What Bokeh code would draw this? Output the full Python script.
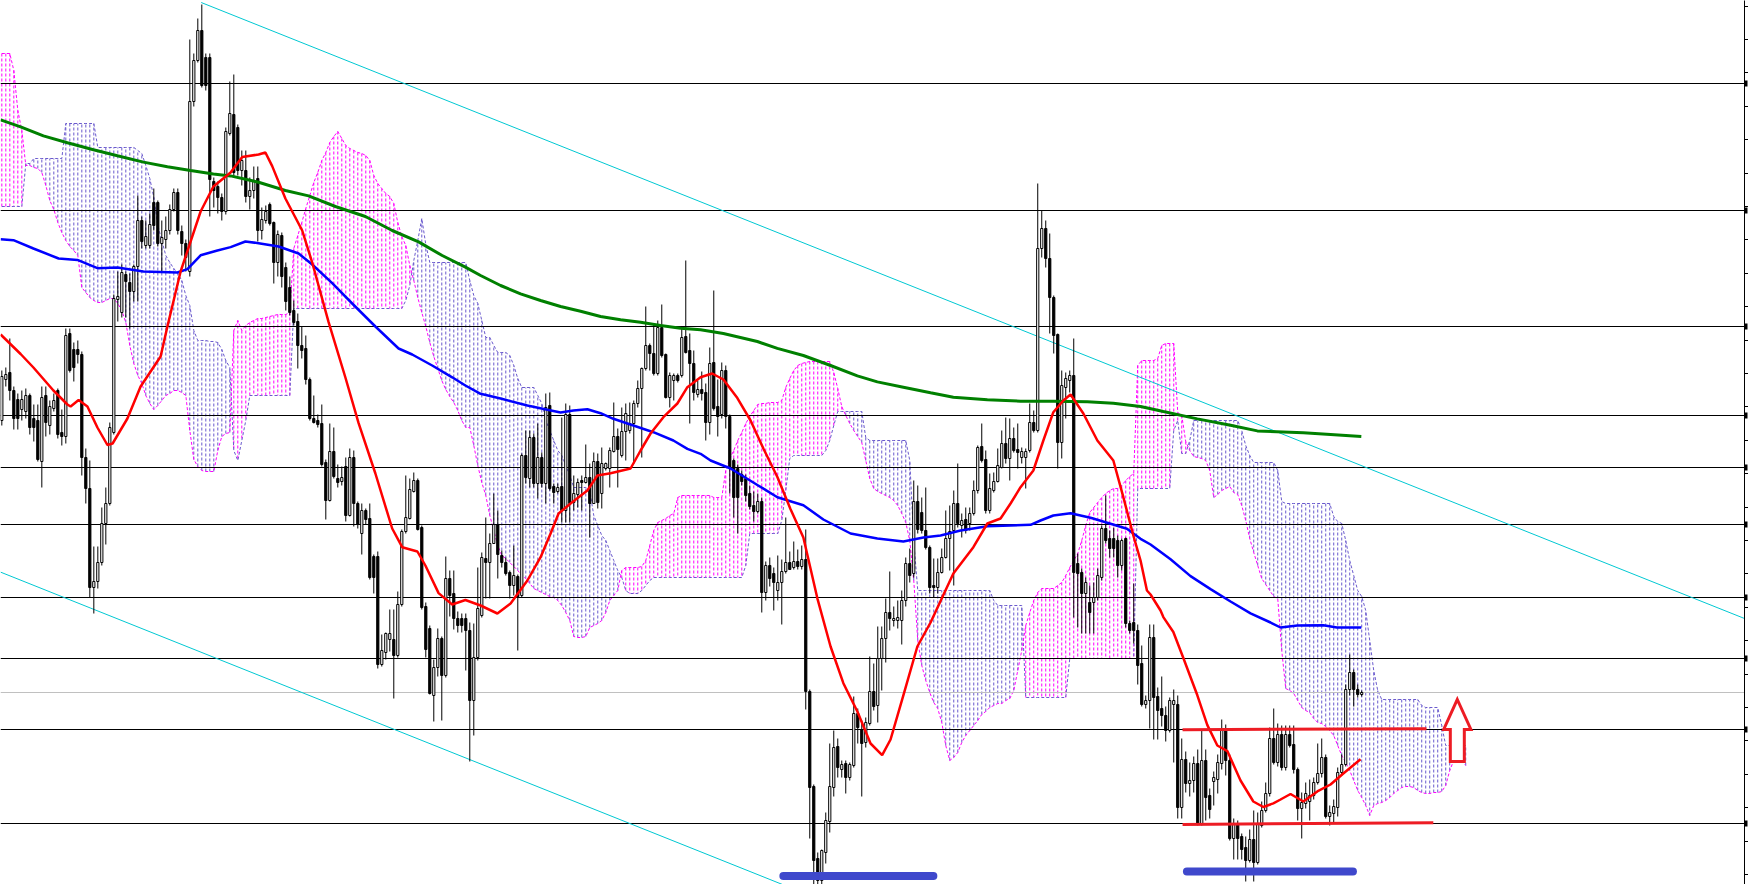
import numpy as np
from bokeh.plotting import figure
from bokeh.models import Range1d, LinearAxis, FixedTicker
from bokeh.embed import file_html
from bokeh.resources import INLINE

# ---------------- data (price units, bar index on x) ----------------
open_ = [464,505,512,494,485,475,473,489,466,464,
 423,489,459,476,494,452,448,551,535,535,
 530,427,396,297,303,322,361,381,452,585,
 572,610,602,593,618,664,639,639,682,682,
 641,645,654,675,692,653,641,613,783,824,
 854,827,827,703,698,687,673,751,770,757,
 714,714,688,694,706,654,664,680,662,622,
 649,617,597,574,563,539,536,505,466,464,
 461,422,384,433,406,403,418,369,427,381,
 351,374,366,328,328,220,232,245,245,229,
 280,353,366,393,404,357,278,256,189,217,
 246,209,306,291,266,266,266,254,184,227,
 269,326,322,341,360,329,322,312,299,308,
 289,429,406,447,401,427,401,479,398,393,
 398,374,470,382,390,404,402,407,381,423,
 391,416,416,433,448,429,453,454,461,481,
 496,516,539,531,511,557,530,487,504,509,
 509,548,534,521,490,495,492,462,522,478,
 470,514,468,424,416,410,406,391,379,373,
 383,292,319,311,294,302,313,322,317,323,
 318,325,193,98,26,4,32,63,97,138,
 115,121,107,119,171,155,142,161,193,179,
 226,246,272,264,264,264,284,321,311,383,
 372,354,337,299,297,312,327,346,354,381,
 359,365,361,371,394,438,425,374,394,403,
 417,441,426,446,435,427,427,434,462,454,
 636,656,626,587,550,442,497,504,509,321,
 312,291,282,282,287,307,356,346,346,344,
 319,346,261,262,254,221,180,184,247,188,
 176,169,154,180,180,77,125,101,104,121,
 61,124,89,103,105,121,155,124,46,61,
 48,37,24,45,22,59,74,91,146,122,
 150,117,150,140,115,76,81,83,89,102,
 111,127,68,71,77,112,120,195,212,195,
 190]
high = [514,517,546,498,491,494,496,491,480,480,
 498,498,484,491,496,475,556,556,542,544,
 533,436,424,338,338,377,397,462,590,613,
 620,613,611,620,689,668,664,671,696,684,
 664,668,680,696,696,659,645,845,831,866,
 880,831,831,707,703,691,757,803,810,760,
 734,734,707,718,718,677,679,682,663,654,
 652,622,608,584,571,558,549,507,489,470,
 480,425,461,457,420,418,427,436,434,383,
 381,376,381,330,333,250,252,275,275,293,
 355,409,406,412,406,359,282,259,225,256,
 248,328,314,314,273,271,271,262,261,317,
 332,367,351,391,374,334,327,314,339,310,
 431,454,454,451,461,432,491,492,401,401,
 467,481,479,409,406,409,440,421,432,431,
 437,422,437,482,456,477,481,482,484,504,
 517,578,541,561,564,580,531,512,511,511,
 556,624,551,534,504,513,501,537,594,505,
 522,519,470,426,420,414,410,399,393,391,
 387,323,327,317,329,325,367,333,343,335,
 339,355,195,100,32,35,72,141,154,146,
 124,124,122,188,176,164,167,228,221,258,
 258,286,313,278,284,294,327,336,404,399,
 387,397,339,326,326,336,374,379,394,421,
 371,377,377,404,439,461,434,411,412,436,
 454,467,466,457,461,437,436,481,474,701,
 674,664,651,589,551,514,512,514,546,331,
 316,307,299,302,316,359,389,354,357,349,
 346,347,264,301,260,239,189,260,260,197,
 208,178,187,195,189,146,133,122,128,135,
 154,135,96,113,130,165,160,130,66,64,
 51,48,55,74,72,83,102,157,176,161,
 159,159,159,159,117,92,102,105,107,141,
 146,130,79,85,117,130,200,230,215,200,
 194]
low = [459,498,484,455,455,464,466,450,443,423,
 397,448,450,473,446,439,441,512,503,521,
 409,381,287,271,296,319,340,379,450,563,
 567,567,556,583,583,636,636,636,654,638,
 613,636,650,673,650,629,613,608,778,822,
 797,794,668,677,671,664,670,749,708,709,
 699,682,675,686,643,645,661,659,601,608,
 597,574,569,559,516,526,500,464,461,457,
 418,365,383,406,397,399,363,368,358,356,
 330,360,305,291,216,218,225,233,186,227,
 278,351,365,392,354,275,227,190,163,208,
 164,207,268,255,252,252,214,123,149,224,
 267,286,286,341,306,317,309,286,289,234,
 287,401,397,397,386,397,381,394,381,391,
 362,362,362,374,377,374,401,347,381,376,
 376,414,397,432,397,427,424,451,421,477,
 427,514,514,509,509,527,486,477,484,502,
 507,531,461,484,487,484,444,450,474,448,
 466,456,391,367,351,399,383,375,363,371,
 272,284,298,274,284,260,311,315,315,315,
 315,175,46,-11,-16,-9,21,52,88,107,
 107,91,104,117,141,88,137,159,174,162,
 194,222,254,258,256,240,278,302,307,351,
 351,335,291,287,291,311,326,314,299,357,
 347,351,354,369,391,422,371,371,392,402,
 416,421,404,432,416,421,396,432,452,452,
 627,617,551,531,416,426,466,492,267,257,
 251,251,251,251,284,304,341,327,327,307,
 314,257,251,241,200,178,176,156,145,145,
 158,143,152,122,66,66,92,88,92,59,
 59,64,66,79,91,115,109,44,25,25,
 25,3,22,3,20,57,72,88,120,118,
 114,114,137,111,64,46,76,64,85,100,
 107,66,59,61,68,109,118,189,178,187,
 188]
close = [508,510,494,466,466,485,489,457,457,425,
 487,462,478,484,450,448,549,514,517,530,
 427,396,297,303,322,361,381,457,586,588,
 612,603,593,618,664,643,648,660,659,641,
 647,654,675,692,654,641,627,783,824,854,
 799,799,705,694,687,673,753,771,712,714,
 724,688,694,704,654,665,673,661,622,650,
 608,583,572,562,539,534,505,466,462,460,
 420,384,433,408,402,407,369,427,381,360,
 374,365,307,307,220,234,251,251,229,280,
 353,367,395,404,355,277,235,191,217,246,
 209,306,289,266,259,259,254,184,227,276,
 327,322,341,360,330,322,311,299,309,288,
 429,407,447,401,427,401,477,396,392,397,
 374,470,381,391,402,402,407,381,423,382,
 421,421,434,448,435,453,471,461,481,496,
 516,539,531,511,557,529,487,509,509,504,
 547,532,521,492,495,491,462,521,476,468,
 514,468,416,387,387,403,389,378,373,383,
 292,319,306,302,302,313,322,315,323,318,
 325,193,97,24,4,34,64,98,137,117,
 120,107,120,171,157,141,162,193,178,226,
 246,272,266,266,267,284,321,309,383,355,
 354,337,297,297,312,327,346,353,381,361,
 364,354,371,394,437,424,374,396,403,419,
 441,426,446,434,432,433,433,462,454,636,
 656,626,587,549,442,499,506,509,312,311,
 291,302,272,287,309,356,344,336,336,319,
 344,261,254,254,219,180,184,247,187,174,
 169,154,184,184,77,125,101,104,121,61,
 124,87,75,107,122,155,124,46,61,46,
 35,24,45,22,60,74,91,146,122,150,
 117,150,139,115,76,82,91,89,102,111,
 127,68,72,78,112,120,195,212,195,190,
 192]

# Ichimoku leading spans (extend 26 bars past the last candle)
span_a = [831,831,831,814,774,754,719,719,717,716,
 712,699,684,675,662,652,644,638,634,629,
 597,592,587,584,582,582,584,586,586,581,
 574,562,539,521,509,501,489,481,475,479,
 484,489,491,494,494,492,489,454,425,418,
 414,413,413,413,434,448,451,452,554,564,
 554,559,562,564,566,566,567,568,569,570,
 570,570,572,636,649,662,676,689,702,712,
 724,732,742,748,753,746,739,736,734,732,
 731,729,724,709,701,696,691,688,681,662,
 648,639,619,604,587,572,558,542,528,516,
 504,495,488,482,474,464,457,457,439,419,
 402,389,369,354,339,329,326,322,318,314,
 309,306,301,296,294,292,290,288,287,284,
 279,272,264,248,247,247,248,257,259,261,
 264,272,284,289,294,314,317,317,317,317,
 318,324,339,354,362,364,366,369,371,387,
 389,389,389,389,389,389,389,389,387,387,
 387,414,426,434,444,452,461,468,474,480,
 481,481,482,482,482,484,497,506,514,519,
 521,522,523,523,523,523,523,523,512,496,
 478,469,461,454,448,442,424,406,396,393,
 391,389,387,384,379,371,362,344,304,244,
 219,204,192,182,176,162,139,124,127,132,
 142,149,154,159,164,170,173,177,179,181,
 181,184,186,194,214,234,259,272,284,292,
 296,296,296,296,299,302,309,317,324,331,
 344,359,372,377,382,387,391,394,396,396,
 399,404,408,411,519,524,524,524,524,526,
 539,541,541,541,472,469,443,434,428,427,
 426,424,414,387,390,394,396,398,392,390,
 379,364,346,332,319,306,300,294,288,286,
 234,196,194,191,184,177,174,172,166,162,
 161,158,154,149,139,129,122,114,104,94,
 87,79,69,79,81,82,84,87,91,94,
 97,98,98,97,94,92,91,91,92,92,
 93,99,114,124,124,124,119]
span_b = [678,678,678,678,678,678,721,721,726,726,
 726,726,726,726,726,726,761,761,761,761,
 761,761,761,761,737,737,737,737,737,737,
 737,737,737,737,734,731,719,706,687,659,
 644,629,622,616,611,604,589,579,554,544,
 544,544,543,543,542,535,524,517,434,424,
 444,464,489,489,489,489,489,489,489,489,
 489,489,489,576,576,576,576,576,576,576,
 576,576,576,576,576,576,576,576,576,576,
 576,576,576,576,576,576,576,576,576,576,
 576,584,599,624,644,666,640,622,622,622,
 622,622,622,622,622,622,622,604,589,581,
 564,547,547,539,532,532,532,529,519,506,
 497,497,497,497,489,481,464,454,444,434,
 429,419,409,397,397,397,397,394,369,359,
 349,344,334,324,314,307,294,291,291,291,
 294,299,304,307,307,307,307,307,307,307,
 307,307,307,307,307,307,307,307,307,307,
 307,307,307,307,307,307,319,351,351,351,
 351,351,351,351,351,364,394,426,429,429,
 429,429,429,429,429,429,434,444,459,473,
 473,473,473,473,473,473,447,444,444,444,
 444,444,444,444,444,444,444,424,344,294,
 294,294,294,294,294,294,294,294,294,294,
 294,294,294,294,294,294,294,294,284,279,
 279,279,279,279,279,279,187,187,187,187,
 187,187,187,187,187,187,187,226,226,226,
 226,226,226,226,226,226,226,226,226,226,
 226,226,226,226,396,396,396,396,396,396,
 396,396,396,454,464,431,431,444,464,464,
 464,464,464,464,464,464,464,464,464,464,
 454,439,429,422,422,422,422,422,422,414,
 383,381,381,381,381,381,381,381,381,381,
 381,381,381,368,363,361,344,324,309,294,
 288,274,244,214,194,185,185,185,185,185,
 185,185,185,185,185,179,177,177,177,177,
 159,139,139,139,139,139,139]

# moving averages sampled along the bar axis
red_ma_x = [-0.3,4.7,7.9,12.9,16.4,17.2,19.2,21.4,23.9,26.4,27.7,31.4,34.7,39.7,41.4,44.7,49.7,52.9,57.2,60.1,
 64.2,65.9,67.6,70.9,75.1,77.6,81.7,85.9,89.2,93.4,97.6,100.1,103.9,105.9,109.2,112.6,115.9,119.7,123.9,127.2,
 131.4,134.7,137.2,139.2,142.2,146.4,148.9,152.2,157.2,159.7,162.2,165.4,168.9,171.4,174.7,177.6,180.4,183.9,187.2,190.4,
 193.9,197.2,200.4,203.9,207.2,210.4,213.9,217.2,220.1,222.2,225.4,228.9,232.2,237.9,242.9,246.4,249.7,252.2,254.7,257.9,
 260.4,262.9,265.4,267.2,270.4,273.9,277.9,280.4,282.9,284.7,286.3,287.2,289.7,290.4,292.9,295.4,298.9,301.4,303.9,306.4,
 309.7,312.9,315.4,317.9,319.7,322.2,325.4,328.9,332.2,335.4,339.7]
red_ma_y = [550,530.5,517,494,480,478,484.5,478,457,439.5,441,466,498,528,558,613,673,698,712,727.6,
 730,732,718.4,686,654,622,562.3,507,461.3,411,356,337.3,333,319,291.4,280,284.5,279,271,281,
 304,327.3,351,371,381,394,409,411.3,416,434,451,467.3,481,497.3,507.3,511,505,486.4,464,436,
 407.5,375.2,347,286.2,238,201.3,173,141,129.4,145,189.2,238,262,311,337.3,361,366,381,397.3,414,
 444,472.3,484,490,471,444,424,387.3,349,324,294,290,274,267.4,252.5,226.5,189.2,159.4,139,133.4,
 104,83,77.5,81.2,85,90.5,83,93.1,100,111,125.2]
blue_ma_x = [-0.3,2.9,7.9,14.2,18.9,23.9,28.9,35.4,43.9,46.4,49.7,53.9,57.2,60.9,64.2,69.2,74.2,77.6,82.6,87.6,
 93.4,99.2,102.6,107.6,112.6,115.9,119.7,124.7,131.4,136.4,139.7,142.9,146.4,149.7,152.9,157.9,162.9,167.9,171.4,174.7,
 177.2,182.2,188.9,193.9,200.4,205.4,212.2,218.9,225.4,230.4,234.7,239.7,246.4,257.2,259.7,262.9,267.2,272.2,277.2,281.3,
 284.7,287.2,292.2,297.2,302.2,307.2,312.2,317.2,319.7,323.9,330.4,333.8,339.9]
blue_ma_y = [645.2,644.3,636,626,624.6,616.3,617,613,612,615.4,629.2,634,637.4,643,641.3,638,631,620,601.3,581,
 558,536,530,519,507.2,499,490.7,486,479,474.7,472,474,475.3,471.3,465.7,459,452.3,444,435.7,430.7,
 424,416,399.5,387.3,379.3,365,351,346,343,347,349,354,358.3,359.7,364,369,371.3,366.7,360.7,355.7,
 345.7,340,325.2,308.4,295.4,283,271.2,262,257,259,259.2,257,257]
green_ma_x = [-0.3,4.7,10.4,16.4,22.9,28.9,35.4,41.4,47.2,52.9,57.2,64.2,70.9,76.7,83.4,90.9,97.6,104.2,110.1,115.9,
 119.7,124.7,129.7,134.7,139.7,144.7,149.7,154.7,159.7,164.7,169.7,174.7,180.4,188.9,193.9,200.4,207.2,213.9,218.9,225.4,
 232.2,237.9,246.4,254.7,262.9,271.4,277.9,284.7,290.4,298.9,307.2,313.9,325.4,332.2,339.9]
green_ma_y = [764.6,757.7,748.6,741.7,734.8,728.8,722.4,717.8,714,710.4,708.6,702.3,694,688.6,678,668,654,642.6,629,617.4,
 609,599,590.7,584,578,573.3,568,564.7,562.3,559,556.3,554.7,551,543,536.1,529,519,508.6,502.6,497.3,
 491.7,487.3,484.7,483.3,483.3,482.7,481.3,478,473,465.6,459.2,453.6,451.8,450,448]

# horizontal price levels, current price, trend channel, hand-drawn marks
level_lines = [801, 674, 558, 469, 417, 360, 287, 226, 155, 61]
last_price = 192
channel_upper_x = [49.85, 435.7]
channel_upper_y = [882.0, 266.0]
channel_lower_x = [-0.33, 200.0]
channel_lower_y = [312.4, -7.7]
resistance_x = [295.2, 356.2]
resistance_y = [154.8, 155.8]
support_x = [295.2, 357.9]
support_y = [60.0, 61.8]
bottom1_x = [195.4, 232.9]
bottom1_y = [8.5, 8.5]
bottom2_x = [296.3, 337.8]
bottom2_y = [13.0, 13.0]
arrow_bar = 363.9
arrow_tail, arrow_neck, arrow_tip = 123.0, 155.0, 185.0
axis_ticks = [878.4 - 33.4 * k for k in range(27)]

# ---------------- figure ----------------
W, H = 1748, 884
p = figure(width=W, height=H, output_backend="svg", toolbar_location=None,
           x_range=Range1d(-0.33, 435.7), y_range=Range1d(0, 884),
           x_axis_location=None, y_axis_location=None,
           min_border_left=0, min_border_top=0, min_border_bottom=0, min_border_right=0)
p.outline_line_color = None
p.background_fill_color = "white"
p.border_fill_color = "white"
p.grid.visible = False

ax = LinearAxis(ticker=FixedTicker(ticks=level_lines, minor_ticks=axis_ticks))
ax.axis_line_color = "black"
ax.major_tick_in = 0
ax.major_tick_out = 3
ax.major_tick_line_width = 6
ax.minor_tick_in = 0
ax.minor_tick_out = 4
ax.minor_tick_line_width = 1
ax.major_label_standoff = 0
ax.major_label_overrides = {v: "" for v in level_lines}
ax.major_label_text_font_size = "1px"
p.add_layout(ax, "right")

# Ichimoku cloud hatch
n_span = len(span_a)
ix = np.arange(n_span)
sa = np.array(span_a, dtype=float)
sb = np.array(span_b, dtype=float)
MAG = "#FF00FF"
SLATE = "#6A5ACD"
cols = [MAG if a > b else SLATE for a, b in zip(sa, sb)]
p.segment(x0=ix, y0=sa, x1=ix, y1=sb, line_color=cols, line_width=1, line_dash="3 2")
p.line(ix, sb, line_color=SLATE, line_width=1, line_dash="3 2")
p.line(ix, sa, line_color=MAG, line_width=1, line_dash="3 2")

# horizontal levels
p.hspan(y=level_lines, line_color="black", line_width=1)
p.hspan(y=[last_price], line_color="#C0C0C0", line_width=1)

# trend channel
p.line(channel_upper_x, channel_upper_y, line_color="#00C8D2", line_width=1)
p.line(channel_lower_x, channel_lower_y, line_color="#00C8D2", line_width=1)

# candles
o = np.array(open_, dtype=float)
h = np.array(high, dtype=float)
l = np.array(low, dtype=float)
c = np.array(close, dtype=float)
bx = np.arange(len(o))
up = c >= o
p.segment(x0=bx, y0=h, x1=bx, y1=l, line_color="black", line_width=1)
p.vbar(x=bx[up], width=0.55, top=c[up], bottom=o[up], fill_color="white", line_color="black", line_width=1)
p.vbar(x=bx[~up], width=0.55, top=o[~up], bottom=c[~up], fill_color="black", line_color="black", line_width=1)

# moving averages
p.line(green_ma_x, green_ma_y, line_color="#008000", line_width=3)
p.line(blue_ma_x, blue_ma_y, line_color="#0000FF", line_width=2.5)
p.line(red_ma_x, red_ma_y, line_color="#FF0000", line_width=2.5)

# hand-drawn marks
PRED = "#ED1C24"
PBLUE = "#3F48CC"
p.line(resistance_x, resistance_y, line_color=PRED, line_width=3)
p.line(support_x, support_y, line_color=PRED, line_width=3)
p.line(bottom1_x, bottom1_y, line_color=PBLUE, line_width=8, line_cap="round")
p.line(bottom2_x, bottom2_y, line_color=PBLUE, line_width=8, line_cap="round")
hw, sw = 3.4, 1.75
ax_x = [arrow_bar, arrow_bar + hw, arrow_bar + sw, arrow_bar + sw, arrow_bar - sw, arrow_bar - sw, arrow_bar - hw]
ax_y = [arrow_tip, arrow_neck, arrow_neck, arrow_tail, arrow_tail, arrow_neck, arrow_neck]
p.patch(ax_x, ax_y, fill_color="white", line_color=PRED, line_width=3, line_join="miter")

open("out.html", "w").write(file_html(p, INLINE))
